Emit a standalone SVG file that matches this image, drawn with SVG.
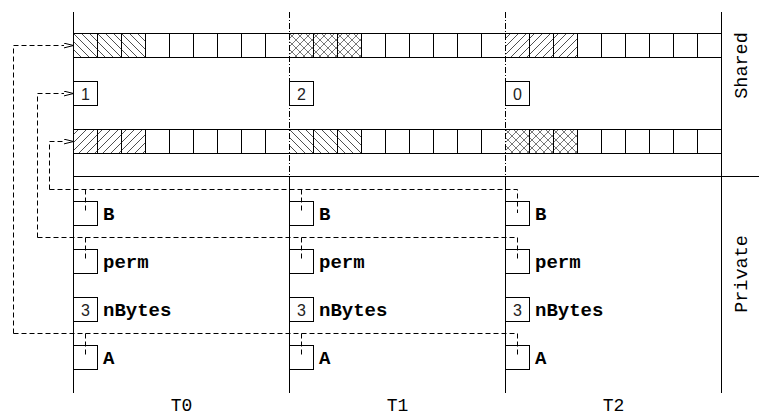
<svg xmlns="http://www.w3.org/2000/svg" width="759" height="417" viewBox="0 0 759 417">
<defs>
<style>
.ln{stroke:#000;stroke-width:1;fill:none}
.dd{stroke:#000;stroke-width:1;fill:none;stroke-dasharray:6,2,1,2}
.cn{stroke:#000;stroke-width:1;fill:none;stroke-dasharray:5,3}
.box{stroke:#000;stroke-width:1;fill:none}
.num{font-family:"Liberation Sans",Arial,sans-serif;font-size:16px;fill:#222;text-anchor:middle}
.lab{font-family:"Liberation Mono","Courier New",monospace;font-size:19px;font-weight:bold;fill:#000}
.reg{font-family:"Liberation Mono","Courier New",monospace;font-size:18.5px;fill:#000;text-anchor:middle}
.bot{font-family:"Liberation Mono","Courier New",monospace;font-size:18px;fill:#000;text-anchor:middle}
</style>
<pattern id="hb" patternUnits="userSpaceOnUse" width="8" height="8">
<path d="M-2,-2 L10,10 M-2,6 L2,10 M6,-2 L10,2" stroke="#222" stroke-width="0.8"/>
</pattern>
<pattern id="hf" patternUnits="userSpaceOnUse" width="8" height="8">
<path d="M-2,10 L10,-2 M-2,2 L2,-2 M6,10 L10,6" stroke="#222" stroke-width="0.8"/>
</pattern>
<pattern id="hx" patternUnits="userSpaceOnUse" width="8" height="8">
<path d="M-2,-2 L10,10 M-2,6 L2,10 M6,-2 L10,2 M-2,10 L10,-2 M-2,2 L2,-2 M6,10 L10,6" stroke="#555" stroke-width="0.8"/>
</pattern>
<marker id="arr" markerUnits="userSpaceOnUse" markerWidth="12" markerHeight="8" refX="10" refY="3" orient="auto">
<path d="M0,0.5 L10,3 L0,5.5 Z" fill="#fff" stroke="#000" stroke-width="1"/>
</marker>
</defs>

<g id="row-top">
<rect x="73.5" y="33.5" width="72" height="24" fill="url(#hb)"/>
<rect x="289.5" y="33.5" width="72" height="24" fill="url(#hx)"/>
<rect x="505.5" y="33.5" width="72" height="24" fill="url(#hf)"/>
<rect class="ln" x="73.5" y="33.5" width="648" height="24"/>
<path class="ln" d="M97.5,33.5v24M121.5,33.5v24M145.5,33.5v24M169.5,33.5v24M193.5,33.5v24M217.5,33.5v24M241.5,33.5v24M265.5,33.5v24M313.5,33.5v24M337.5,33.5v24M361.5,33.5v24M385.5,33.5v24M409.5,33.5v24M433.5,33.5v24M457.5,33.5v24M481.5,33.5v24M529.5,33.5v24M553.5,33.5v24M577.5,33.5v24M601.5,33.5v24M625.5,33.5v24M649.5,33.5v24M673.5,33.5v24M697.5,33.5v24"/>
</g>
<g id="row-bottom">
<rect x="73.5" y="129.5" width="72" height="24" fill="url(#hf)"/>
<rect x="289.5" y="129.5" width="72" height="24" fill="url(#hb)"/>
<rect x="505.5" y="129.5" width="72" height="24" fill="url(#hx)"/>
<rect class="ln" x="73.5" y="129.5" width="648" height="24"/>
<path class="ln" d="M97.5,129.5v24M121.5,129.5v24M145.5,129.5v24M169.5,129.5v24M193.5,129.5v24M217.5,129.5v24M241.5,129.5v24M265.5,129.5v24M313.5,129.5v24M337.5,129.5v24M361.5,129.5v24M385.5,129.5v24M409.5,129.5v24M433.5,129.5v24M457.5,129.5v24M481.5,129.5v24M529.5,129.5v24M553.5,129.5v24M577.5,129.5v24M601.5,129.5v24M625.5,129.5v24M649.5,129.5v24M673.5,129.5v24M697.5,129.5v24"/>
</g>

<g id="frame">
<path class="ln" d="M73.5,12v381M721.5,12v381M73.5,176.5H759M289.5,176.5V393M505.5,176.5V393"/>
<path class="dd" d="M289.5,12V176.5M505.5,12V176.5"/>
</g>

<g id="counter-t0"><rect class="box" x="73.5" y="81.5" width="24" height="24"/><text class="num" x="85.5" y="100">1</text></g>
<g id="counter-t1"><rect class="box" x="289.5" y="81.5" width="24" height="24"/><text class="num" x="301.5" y="100">2</text></g>
<g id="counter-t2"><rect class="box" x="505.5" y="81.5" width="24" height="24"/><text class="num" x="517.5" y="100">0</text></g>

<g id="t0-B"><rect class="box" x="73.5" y="201.5" width="24" height="24"/><text class="lab" x="103" y="220">B</text></g>
<g id="t0-perm"><rect class="box" x="73.5" y="249.5" width="24" height="24"/><text class="lab" x="103" y="268">perm</text></g>
<g id="t0-nBytes"><rect class="box" x="73.5" y="297.5" width="24" height="24"/><text class="num" x="85.5" y="316">3</text><text class="lab" x="103" y="316">nBytes</text></g>
<g id="t0-A"><rect class="box" x="73.5" y="345.5" width="24" height="24"/><text class="lab" x="103" y="364">A</text></g>

<g id="t1-B"><rect class="box" x="289.5" y="201.5" width="24" height="24"/><text class="lab" x="319" y="220">B</text></g>
<g id="t1-perm"><rect class="box" x="289.5" y="249.5" width="24" height="24"/><text class="lab" x="319" y="268">perm</text></g>
<g id="t1-nBytes"><rect class="box" x="289.5" y="297.5" width="24" height="24"/><text class="num" x="301.5" y="316">3</text><text class="lab" x="319" y="316">nBytes</text></g>
<g id="t1-A"><rect class="box" x="289.5" y="345.5" width="24" height="24"/><text class="lab" x="319" y="364">A</text></g>

<g id="t2-B"><rect class="box" x="505.5" y="201.5" width="24" height="24"/><text class="lab" x="535" y="220">B</text></g>
<g id="t2-perm"><rect class="box" x="505.5" y="249.5" width="24" height="24"/><text class="lab" x="535" y="268">perm</text></g>
<g id="t2-nBytes"><rect class="box" x="505.5" y="297.5" width="24" height="24"/><text class="num" x="517.5" y="316">3</text><text class="lab" x="535" y="316">nBytes</text></g>
<g id="t2-A"><rect class="box" x="505.5" y="345.5" width="24" height="24"/><text class="lab" x="535" y="364">A</text></g>

<g id="connectors">
<path class="cn" d="M13.5,333.5H517.5V357M85.5,333.5V357M301.5,333.5V357"/>
<path class="cn" d="M13.5,333.5V45.5H73.5" marker-end="url(#arr)"/>
<path class="cn" d="M37.5,237.5H517.5V261M85.5,237.5V261M301.5,237.5V261"/>
<path class="cn" d="M37.5,237.5V93.5H73.5" marker-end="url(#arr)"/>
<path class="cn" d="M49.5,189.5H517.5V213M85.5,189.5V213M301.5,189.5V213"/>
<path class="cn" d="M49.5,189.5V141.5H73.5" marker-end="url(#arr)"/>
</g>

<g id="labels">
<text class="bot" x="181.5" y="411">T0</text>
<text class="bot" x="397.5" y="411">T1</text>
<text class="bot" x="613.5" y="411">T2</text>
<text class="reg" transform="translate(746.5,65.5) rotate(-90)">Shared</text>
<text class="reg" transform="translate(746.5,274) rotate(-90)">Private</text>
</g>
</svg>
